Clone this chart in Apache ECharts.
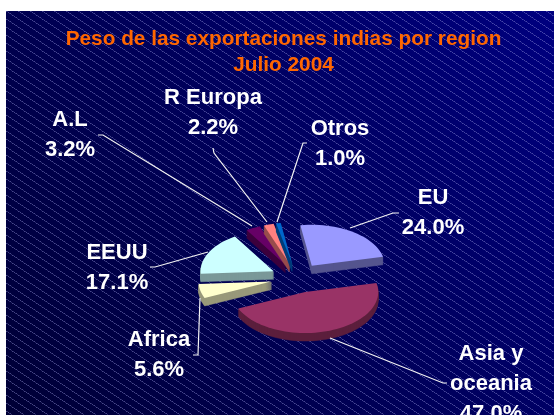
<!DOCTYPE html>
<html><head><meta charset="utf-8">
<style>html,body{margin:0;padding:0;background:#fff}#c{width:554px;height:415px}</style>
<script src="https://cdn.jsdelivr.net/npm/echarts@6/dist/echarts.min.js"></script>
</head><body><div id="c"></div>
<script>
const categories = ['EU', 'Asia y\noceania', 'Africa', 'EEUU', 'A.L', 'R Europa', 'Otros'];
const values = [24.0, 47.0, 5.6, 17.1, 3.2, 2.2, 1.0];
const topColors = ['#9999ff', '#993366', '#ffffcc', '#ccffff', '#660066', '#ff8080', '#0066cc'];
const sideColors = ['#55558f', '#5c1f3d', '#99997a', '#7a9999', '#3d003d', '#994d4d', '#003d7a'];
const titleLines = 'Peso de las exportaciones indias por region\nJulio 2004';

// layout of the drawing (not data)
const pie = {cx: 297, cy: 278, a: 73, b: 41, explode: 0.36, depth: 8, startDeg: -9};
const labelPos = [[433, 198], [491, 354], [159, 340], [117, 253], [70, 120], [213, 98], [340, 129]];
const leaders = [
  [[399,213],[393,213],[350,228]],
  [[447,383],[443,383],[330,338]],
  [[193,355],[198,355],[200,298]],
  [[150,267],[155,267],[208,252]],
  [[98,135],[103,135],[252,226]],
  [[213,148],[214,153],[267,222]],
  [[307,143],[303,143],[277,222]]
];

function patternCanvas() {
  const w = 12, h = 8, c = document.createElement('canvas');
  c.width = w; c.height = h;
  const g = c.getContext('2d');
  for (let x = 0; x < w; x++) {
    const y = Math.floor(x * h / w);
    g.fillStyle = x % 2 ? 'rgba(170,170,235,0.24)' : 'rgba(170,170,235,0.42)';
    g.fillRect(x, y, 1, 1);
  }
  return c;
}

const total = values.reduce((s, v) => s + v, 0);
function renderItem(params, api) {
  const i = params.dataIndex, v = api.value(0);
  let before = 0;
  for (let k = 0; k < i; k++) before += values[k];
  const toRad = d => d * Math.PI / 180;
  const a0 = toRad(pie.startDeg + before / total * 360);
  const a1 = a0 + v / total * 2 * Math.PI;
  const mid = (a0 + a1) / 2;
  const ax = pie.cx + pie.explode * pie.a * Math.sin(mid);
  const ay = pie.cy - pie.explode * pie.b * Math.cos(mid);
  const pts = [[ax, ay]];
  const steps = Math.max(4, Math.ceil((a1 - a0) / toRad(3)));
  for (let s = 0; s <= steps; s++) {
    const t = a0 + (a1 - a0) * s / steps;
    pts.push([ax + pie.a * Math.sin(t), ay - pie.b * Math.cos(t)]);
  }
  const children = [];
  for (let d = pie.depth; d >= 1; d--) {
    children.push({type: 'polygon', shape: {points: pts.map(p => [p[0], p[1] + d])},
      style: {fill: sideColors[i], stroke: sideColors[i], lineWidth: 0.5}});
  }
  children.push({type: 'polygon', shape: {points: pts}, style: {fill: topColors[i]}});
  children.push({type: 'polyline', shape: {points: leaders[i]},
    style: {fill: null, stroke: '#f4f4f4', lineWidth: 1.2}});
  const lines = categories[i].split('\n').concat(v.toFixed(1) + '%');
  lines.forEach((t, k) => children.push({type: 'text', style: {
    text: t, x: labelPos[i][0], y: labelPos[i][1] + k * 30, align: 'center', verticalAlign: 'middle',
    fill: '#ffffff', font: 'bold 22px "Liberation Sans", Arial, sans-serif'}}));
  return {type: 'group', children};
}

const chart = echarts.init(document.getElementById('c'), null, {renderer: 'canvas'});
chart.setOption({
  animation: false,
  backgroundColor: '#ffffff',
  title: {text: titleLines, left: 278.5, top: 21, textAlign: 'center',
    textStyle: {color: '#ff6600', fontWeight: 'bold', fontSize: 20.8, lineHeight: 26, fontFamily: '"Liberation Sans", Arial, sans-serif'}},
  graphic: [
    {type: 'rect', left: 6, top: 11, z: -10, shape: {width: 548, height: 404},
      style: {fill: new echarts.graphic.LinearGradient(1, 0, 0, 1, [
        {offset: 0, color: '#00007f'}, {offset: 1, color: '#000035'}])}},
    {type: 'rect', left: 6, top: 11, z: -9, shape: {width: 548, height: 404},
      style: {fill: {image: patternCanvas(), repeat: 'repeat'}}}
  ],
  series: [{type: 'custom', coordinateSystem: 'none', silent: true, renderItem, data: values.map(v => [v])}]
});
</script></body></html>
